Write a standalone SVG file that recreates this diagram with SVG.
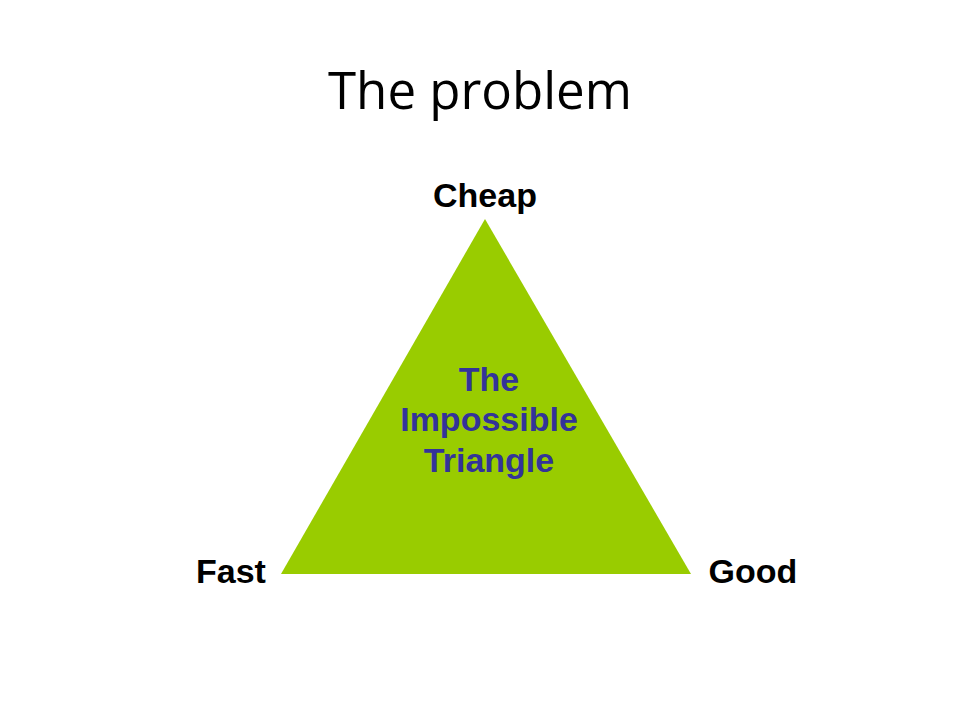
<svg xmlns="http://www.w3.org/2000/svg" width="960" height="720" viewBox="0 0 960 720">
  <style>
    .title { font-family: "Open Sans", "Liberation Sans", sans-serif; font-size: 51px; fill: #000000; }
    .lbl { font-family: "Liberation Sans", Arial, sans-serif; font-weight: bold; font-size: 34px; fill: #000000; }
    .inner { font-family: "Liberation Sans", Arial, sans-serif; font-weight: bold; font-size: 34px; fill: #333399; }
  </style>
  <rect x="0" y="0" width="960" height="720" fill="#ffffff"/>
  <text class="title" x="480" y="109" text-anchor="middle">The problem</text>
  <g id="connectors"></g>
  <g id="triangle">
    <polygon points="485,219 281,574 691,574" fill="#99CC00"/>
    <text class="inner" x="489" y="391" text-anchor="middle">The</text>
    <text class="inner" x="489" y="431" text-anchor="middle">Impossible</text>
    <text class="inner" x="489" y="472" text-anchor="middle">Triangle</text>
  </g>
  <g id="cheap">
    <text class="lbl" x="485" y="207" text-anchor="middle">Cheap</text>
  </g>
  <g id="fast">
    <text class="lbl" x="231" y="583" text-anchor="middle">Fast</text>
  </g>
  <g id="good">
    <text class="lbl" x="753" y="583" text-anchor="middle">Good</text>
  </g>
</svg>
